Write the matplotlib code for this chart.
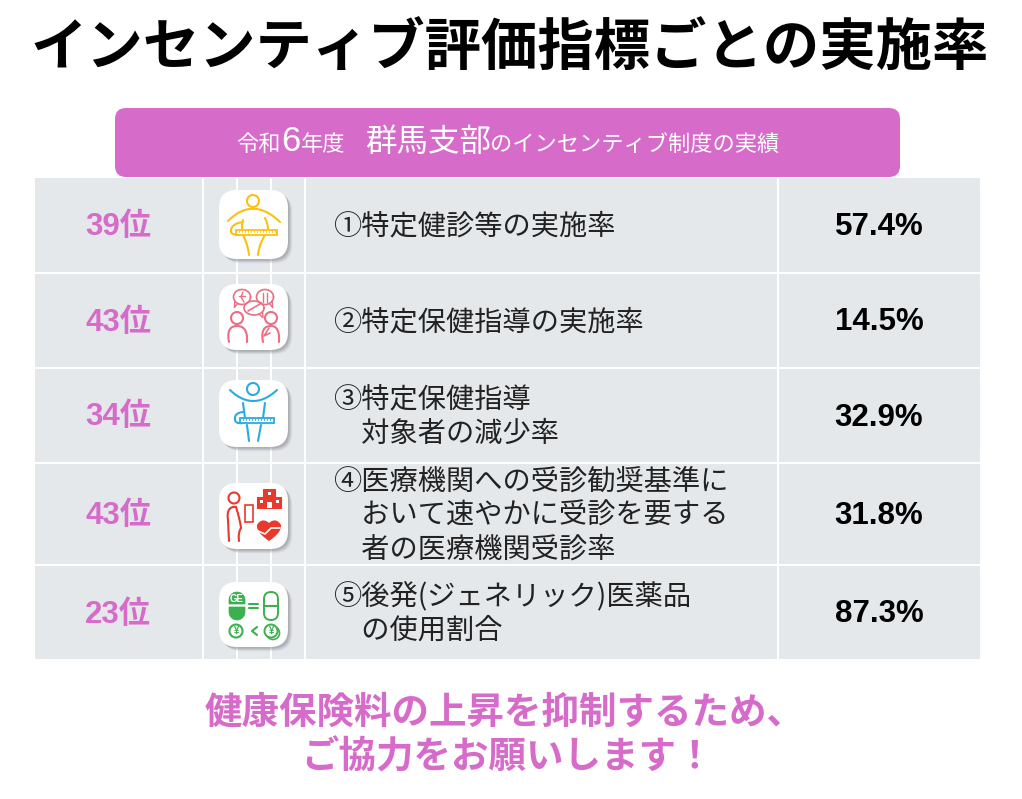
import numpy as np
import matplotlib
matplotlib.use("Agg")
import matplotlib.pyplot as plt
from matplotlib.patches import FancyBboxPatch, Rectangle, Circle, Polygon

JP = ["Noto Sans CJK JP", "DejaVu Sans"]
LAT = ["Liberation Sans", "Noto Sans CJK JP"]

title = "インセンティブ評価指標ごとの実施率"
ranks = ["39位", "43位", "34位", "43位", "23位"]
rates = ["57.4%", "14.5%", "32.9%", "31.8%", "87.3%"]
items = [
    ["①特定健診等の実施率"],
    ["②特定保健指導の実施率"],
    ["③特定保健指導", "　対象者の減少率"],
    ["④医療機関への受診勧奨基準に", "　おいて速やかに受診を要する", "　者の医療機関受診率"],
    ["⑤後発(ジェネリック)医薬品", "　の使用割合"],
]
footer = ["健康保険料の上昇を抑制するため、", "ご協力をお願いします！"]

# table layout in pixels
row_top = [178, 274, 369, 464, 566]
row_bot = [272, 367, 462, 564, 659]
col_left = [35, 204, 238, 272, 306, 779]
col_right = [202, 236, 270, 304, 777, 980]
box_top = [190, 284, 380, 483, 582]
box_bot = [259, 350, 447, 549, 647]

PINK = "#d66bca"
CELL = "#e5e8eb"

fig = plt.figure(figsize=(10.22, 7.99), dpi=100)
ax = fig.add_axes([0, 0, 1, 1])
ax.set_xlim(0, 1022)
ax.set_ylim(799, 0)
ax.axis("off")


def curve(p0, p1, p2, n=30):
    t = np.linspace(0, 1, n)[:, None]
    p0, p1, p2 = map(np.array, (p0, p1, p2))
    return (1 - t) ** 2 * p0 + 2 * t * (1 - t) * p1 + t ** 2 * p2


def stroke(pts, c, lw=1.5):
    pts = np.array(pts)
    ax.plot(pts[:, 0], pts[:, 1], color=c, lw=lw, solid_capstyle="round", zorder=6)


def ring(x, y, r, c, lw=1.5, fill="none"):
    ax.add_patch(Circle((x, y), r, fc=fill, ec=c, lw=lw, zorder=6))


def tape(x0, y0, x1, y1, c):
    ax.add_patch(Rectangle((x0, y0), x1 - x0, y1 - y0, fc="white", ec=c, lw=1.3, zorder=7))
    for x in np.arange(x0 + 3, x1 - 1, 3):
        ax.plot([x, x], [y0, y0 + 2], color=c, lw=0.6, zorder=8)


def bubble(x, y, rx, ry, c, tail):
    t = np.linspace(0, 2 * np.pi, 50)
    stroke(np.c_[x + rx * np.cos(t), y + ry * np.sin(t)], c, 1.2)
    stroke([(x + tail * rx * 0.5, y + ry * 0.85), (x + tail * rx * 0.9, y + ry * 1.4), (x + tail * rx * 0.85, y + ry * 0.5)], c, 1.0)


def half_pill(x0, x1, y_flat, y_end, c):
    # capsule half, flat on one side and round on the other
    r = (x1 - x0) / 2
    t = np.linspace(0, np.pi, 30)
    sign = 1 if y_end > y_flat else -1
    cap = np.c_[x0 + r + r * np.cos(t), y_end - sign * r + sign * r * np.sin(t)]
    pts = np.r_[[(x1, y_flat)], cap, [(x0, y_flat)]]
    ax.add_patch(Polygon(pts, fc=c, ec=c, lw=0.5, zorder=6))


def icon_waist(c="#fcc10e"):
    ring(253, 201, 6, c)
    stroke(curve((228, 221), (253, 196), (280, 222)), c)
    stroke(curve((243, 220), (241, 228), (243, 230)), c)
    stroke(curve((265, 218), (268, 224), (268, 230)), c)
    stroke(curve((243, 235), (248, 245), (249, 255)), c)
    stroke(curve((265, 235), (259, 245), (258, 255)), c)
    stroke(curve((243, 222), (230, 224), (231, 232)), c)
    stroke(curve((231, 232), (232, 235), (240, 235)), c)
    tape(236, 230, 277, 235, c)


def icon_talk(c="#ea6f84"):
    bubble(242, 297, 8.5, 7.5, c, -1)
    bubble(265, 297, 8.5, 7.5, c, 1)
    bubble(254, 308, 10, 7, c, 1)
    stroke([(248, 311), (260, 304)], c, 1.2)
    stroke([(243, 292), (241, 297), (244, 302)], c, 1.0)
    stroke([(239, 296), (245, 296)], c, 1.0)
    stroke([(263, 293), (263, 302)], c, 1.0)
    stroke([(267, 293), (267, 302)], c, 1.0)
    ring(237, 318, 6, c)
    ring(271, 318, 6, c)
    stroke(curve((229, 342), (226, 326), (237, 326)), c)
    stroke(curve((237, 326), (248, 326), (247, 342)), c)
    stroke(curve((263, 342), (260, 326), (271, 326)), c)
    stroke(curve((271, 326), (280, 326), (279, 342)), c)
    stroke([(269, 328), (264, 336), (270, 333)], c, 1.2)


def icon_arms(c="#29abe2"):
    ring(253, 389, 6, c)
    stroke(curve((230, 390), (253, 412), (277, 390)), c)
    stroke([(243, 403), (245, 418)], c)
    stroke([(265, 403), (263, 418)], c)
    stroke([(247, 425), (249, 441)], c)
    stroke([(261, 425), (258, 441)], c)
    stroke(curve((243, 412), (234, 413), (235, 420)), c)
    stroke(curve((235, 420), (236, 424), (243, 423)), c)
    tape(240, 418, 274, 423, c)


def icon_hospital(c="#e8392c"):
    ring(234, 498, 5.5, c)
    stroke(curve((236, 507), (226, 506), (228, 520)), c)
    stroke([(228, 520), (229, 541)], c)
    stroke(curve((236, 507), (240, 520), (241, 528)), c)
    stroke(curve((241, 528), (238, 533), (239, 541)), c)
    ax.add_patch(Rectangle((245, 505), 8, 17, fc="white", ec=c, lw=1.2, zorder=6))
    ax.add_patch(Rectangle((257, 497), 24, 11, fc=c, ec=c, lw=0.8, zorder=6))
    ax.add_patch(Rectangle((263, 489), 12, 8, fc=c, ec=c, lw=0.8, zorder=6))
    for x, y in [(260, 500), (267.5, 492), (276, 500)]:
        ax.add_patch(Rectangle((x, y), 3, 3, fc="white", ec="none", zorder=7))
    ax.add_patch(Rectangle((266.5, 502), 5, 6, fc="white", ec="none", zorder=7))
    heart = np.r_[curve((269, 541), (256, 532), (257, 525)), curve((257, 525), (262, 517), (269, 523)),
                  curve((269, 523), (276, 517), (281, 525)), curve((281, 525), (282, 532), (269, 541))]
    ax.add_patch(Polygon(heart, fc=c, ec="none", zorder=6))
    stroke([(258, 531), (265, 534), (271, 528), (280, 528)], "white", 1.2)


def icon_generic(c="#3cb04e"):
    half_pill(229, 245, 604, 592, c)
    half_pill(229, 245, 607, 620, c)
    ax.text(237, 599, "GE", color="white", fontsize=7, fontweight="bold", ha="center",
            va="center", family=LAT, zorder=7)
    stroke([(249, 603.5), (258, 603.5)], c)
    stroke([(249, 608), (258, 608)], c)
    ax.add_patch(FancyBboxPatch((264, 592), 14, 28, boxstyle="round,pad=0,rounding_size=7",
                                fc="white", ec=c, lw=1.4, zorder=6))
    stroke([(264, 606), (278, 606)], c)
    ring(236, 631, 6.5, c)
    ring(273, 633, 6.5, c, 1.2)
    ring(271, 631, 6.5, c, 1.4, "white")
    ax.text(236, 631, "¥", color=c, fontsize=7, fontweight="bold", ha="center", va="center",
            family=LAT, zorder=7)
    ax.text(271, 631, "¥", color=c, fontsize=7, fontweight="bold", ha="center", va="center",
            family=LAT, zorder=7)
    stroke([(257, 627), (252, 631), (257, 635)], c)


icons = [icon_waist, icon_talk, icon_arms, icon_hospital, icon_generic]

# title
ax.text(509.5, 49, title, fontsize=40.6, fontweight="bold", family=JP, color="black",
        ha="center", va="center")

# banner
ax.add_patch(FancyBboxPatch((115, 108), 785, 69, boxstyle="round,pad=0,rounding_size=11",
                            fc=PINK, ec="none"))
banner_parts = [
    ("令和", 236, 16, LAT),
    ("6", 281, 25, ["Liberation Sans"]),
    ("年度", 301, 16, LAT),
    ("群馬支部", 365, 22.7, LAT),
    ("のインセンティブ制度の実績", 490, 16, LAT),
]
for s, x, size, fam in banner_parts:
    ax.text(x, 151, s, fontsize=size, family=fam, color="white", ha="left", va="baseline")

# table
for i in range(5):
    for x0, x1 in zip(col_left, col_right):
        ax.add_patch(Rectangle((x0, row_top[i]), x1 - x0, row_bot[i] - row_top[i], fc=CELL, ec="none"))
    cy = (row_top[i] + row_bot[i]) / 2 + 0.5
    ax.text(118, cy + 1.5, ranks[i], fontsize=22.5, fontweight="bold", family=LAT, color=PINK,
            ha="center", va="center")
    ax.text(879, cy + 1.5, rates[i], fontsize=22.5, fontweight="bold", family=LAT, color="black",
            ha="center", va="center")
    n = len(items[i])
    for j, line in enumerate(items[i]):
        ax.text(333, cy + 1 + (j - (n - 1) / 2) * 34, line, fontsize=20.3, family=JP, color="#222222",
                ha="left", va="center")
    # icon card with soft shadow
    w = 69
    h = box_bot[i] - box_top[i]
    for k, a in zip([7, 5.5, 4, 2.5], [0.10, 0.14, 0.18, 0.22]):
        ax.add_patch(FancyBboxPatch((219 + k * 0.6, box_top[i] + k * 0.6), w, h,
                                    boxstyle="round,pad=0,rounding_size=18", fc="#777b80",
                                    ec="none", alpha=a, zorder=3))
    ax.add_patch(FancyBboxPatch((219, box_top[i]), w, h, boxstyle="round,pad=0,rounding_size=18",
                                fc="white", ec="none", zorder=4))
    icons[i]()

# footer
for line, x, y in zip(footer, [505, 507], [712, 757]):
    ax.text(x, y, line, fontsize=27, fontweight="bold", family=JP, color=PINK,
            ha="center", va="center")

fig.savefig("out.png", dpi=100)
